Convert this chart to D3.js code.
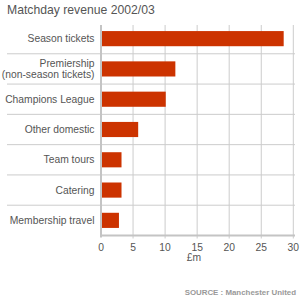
<!DOCTYPE html>
<html>
<head>
<meta charset="utf-8">
<script src="https://cdn.jsdelivr.net/npm/d3@7"></script>
<style>
  body { margin: 0; background: #fff; }
  svg { font-family: "Liberation Sans", Arial, sans-serif; }
  .title { font-size: 12.2px; fill: #555; }
  .cat { font-size: 10.3px; fill: #555; }
  .tick-label { font-size: 10.3px; fill: #555; }
  .unit { font-size: 10.3px; fill: #555; }
  .source { font-size: 7.9px; font-weight: bold; fill: #999; }
</style>
</head>
<body>
<svg width="300" height="300"></svg>
<script>
// Matchday revenue by source, in £m
const categories = [
  'Season tickets',
  'Premiership\n(non-season tickets)',
  'Champions League',
  'Other domestic',
  'Team tours',
  'Catering',
  'Membership travel'
];
const values = [28.5, 11.6, 10.1, 5.8, 3.2, 3.2, 2.8];
const ticks = [0, 5, 10, 15, 20, 25, 30];

const svg = d3.select('svg');

const plotTop = 25;
const plotBottom = 235.5;
const plotLeft = 101;
const plotRight = 293.3;

const xScale = d3.scaleLinear()
  .domain([0, 30])
  .range([plotLeft, plotRight]);

const yScale = d3.scaleBand()
  .domain(categories)
  .range([23.5, plotBottom])
  .paddingInner(0.5)
  .paddingOuter(0.25);

const bw = yScale.bandwidth();
const step = yScale.step();

// title
svg.append('text')
  .attr('class', 'title')
  .attr('x', 7)
  .attr('y', 13.5)
  .text('Matchday revenue 2002/03');

// vertical grid lines (run a little past the axis, like ticks)
svg.append('g')
  .selectAll('line')
  .data(ticks.slice(1))
  .enter()
  .append('line')
  .attr('x1', d => xScale(d))
  .attr('x2', d => xScale(d))
  .attr('y1', plotTop)
  .attr('y2', plotBottom + 3)
  .attr('stroke', '#ccc')
  .attr('stroke-width', 1);

// row separators
svg.append('g')
  .selectAll('line')
  .data(categories.slice(0, -1))
  .enter()
  .append('line')
  .attr('x1', 7)
  .attr('x2', 295)
  .attr('y1', d => yScale(d) + bw + step * 0.25)
  .attr('y2', d => yScale(d) + bw + step * 0.25)
  .attr('stroke', '#ccc')
  .attr('stroke-width', 1);

// bars
svg.append('g')
  .selectAll('rect')
  .data(categories)
  .enter()
  .append('rect')
  .attr('x', xScale(0))
  .attr('y', d => yScale(d))
  .attr('width', (d, i) => xScale(values[i]) - xScale(0))
  .attr('height', bw)
  .attr('fill', '#cc3300');

// axis lines
svg.append('line')
  .attr('x1', plotLeft)
  .attr('x2', plotLeft)
  .attr('y1', plotTop)
  .attr('y2', plotBottom + 2)
  .attr('stroke', '#c4c4c4')
  .attr('stroke-width', 2);

svg.append('line')
  .attr('x1', plotLeft - 1)
  .attr('x2', 295)
  .attr('y1', plotBottom)
  .attr('y2', plotBottom)
  .attr('stroke', '#c4c4c4')
  .attr('stroke-width', 2);

// category labels
const labels = svg.append('g')
  .selectAll('text')
  .data(categories)
  .enter()
  .append('text')
  .attr('class', 'cat')
  .attr('text-anchor', 'end');

labels.each(function (d) {
  const lines = d.split('\n');
  const cy = yScale(d) + bw / 2;
  const lh = 10.5;
  const t = d3.select(this);
  lines.forEach((line, k) => {
    t.append('tspan')
      .attr('x', 94.5)
      .attr('y', cy + 3.7 + (k - (lines.length - 1) / 2) * lh)
      .text(line);
  });
});

// x tick labels
svg.append('g')
  .selectAll('text')
  .data(ticks)
  .enter()
  .append('text')
  .attr('class', 'tick-label')
  .attr('x', d => xScale(d))
  .attr('y', 250.5)
  .attr('text-anchor', 'middle')
  .text(d => d);

svg.append('text')
  .attr('class', 'unit')
  .attr('x', 194)
  .attr('y', 261)
  .attr('text-anchor', 'middle')
  .text('£m');

svg.append('text')
  .attr('class', 'source')
  .attr('x', 296)
  .attr('y', 294.5)
  .attr('text-anchor', 'end')
  .text('SOURCE : Manchester United');
</script>
</body>
</html>
